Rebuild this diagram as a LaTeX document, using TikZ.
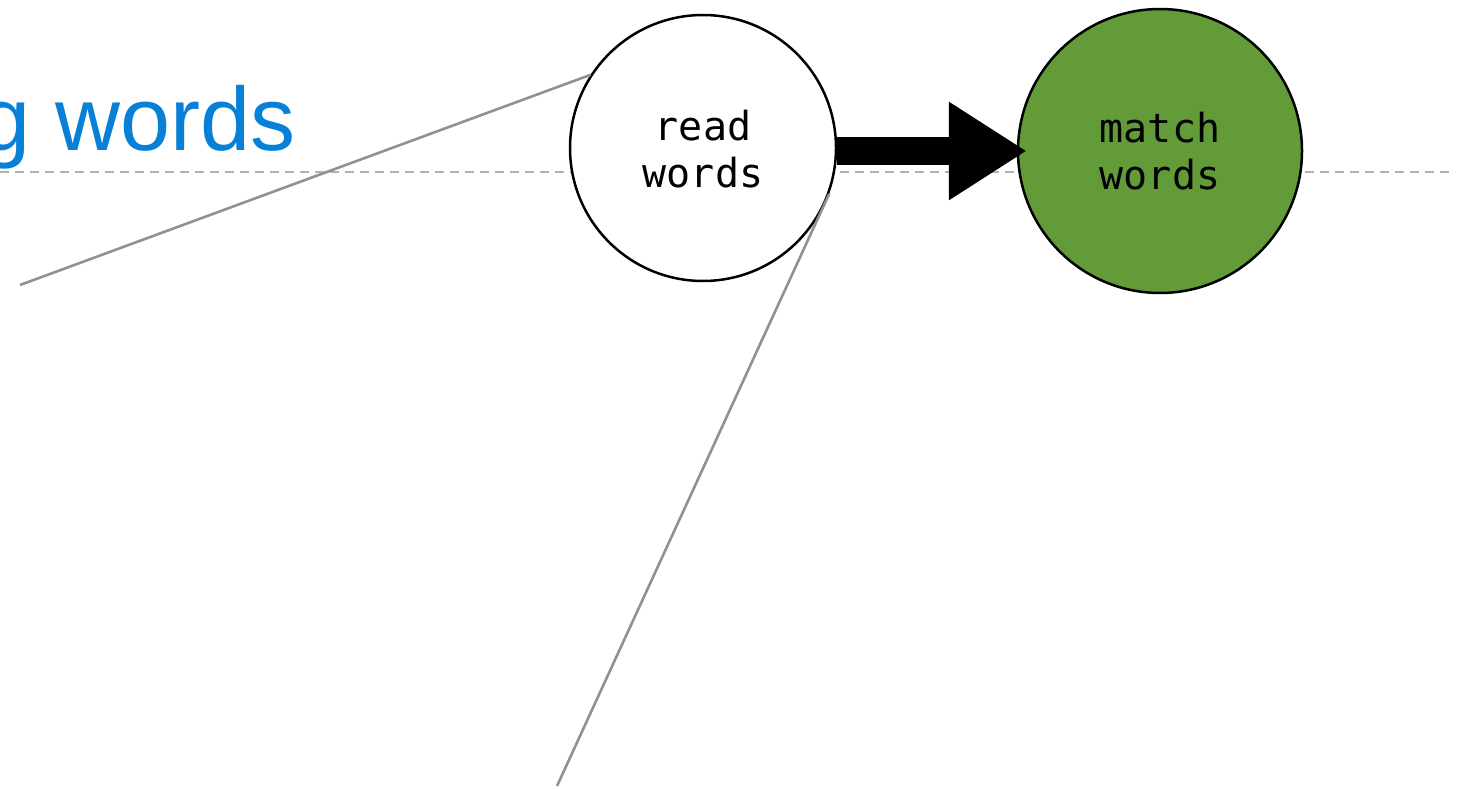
\documentclass[tikz,border=0pt]{standalone}
\usepackage{fontspec}
\setmainfont{Liberation Sans}
\setmonofont{DejaVu Sans Mono}
\usetikzlibrary{arrows.meta}
\definecolor{titleblue}{RGB}{8,128,216}
\definecolor{stagegreen}{RGB}{98,155,55}
\definecolor{guidegray}{RGB}{178,178,178}
\definecolor{leadgray}{RGB}{145,145,145}
\begin{document}
\begin{tikzpicture}[x=1pt,y=-1pt,
  stagenode/.style={circle, draw=black, line width=2.5pt, inner sep=0pt,
    align=center, font=\ttfamily\fontsize{40}{47}\selectfont},
  guideline/.style={draw=guidegray, line width=2.6pt, dash pattern=on 9pt off 6pt},
  leadline/.style={draw=leadgray, line width=2.6pt},
  flowarrow/.style={line width=28pt,
    -{Triangle[length=78pt 0 0, width=93pt 0 0]}}]
\useasboundingbox (0,0) rectangle (1480,789);
\clip (0,0) rectangle (1480,789);

% dashed guide across the row
\coordinate (gl) at (0,172);
\coordinate (gr) at (1453,172);
\draw[guideline] (gl) -- (gr);

% heading fragment
\node[anchor=base west, inner sep=0pt, text=titleblue,
  font=\fontsize{90}{100}\selectfont] (title) at (-20,150) {g words};

% stages
\node[stagenode, fill=white, minimum size=266pt, text depth=0pt] (read) at (703,148) {\raisebox{-2pt}{read}\\\raisebox{-2pt}{words}};
\node[stagenode, fill=stagegreen, minimum size=284pt] (match) at (1160,151) {match\\words};

% lead lines from the first stage
\coordinate (la) at (20,285);
\coordinate (lb) at (557,786);
\draw[leadline] (read.147.8) -- (la);
\draw[leadline] (read.-20.5) -- (lb);

% flow arrow, level with the second stage
\draw[flowarrow, shorten >=-10pt] (read.east |- match.west) -- (match.west);
\end{tikzpicture}
\end{document}
